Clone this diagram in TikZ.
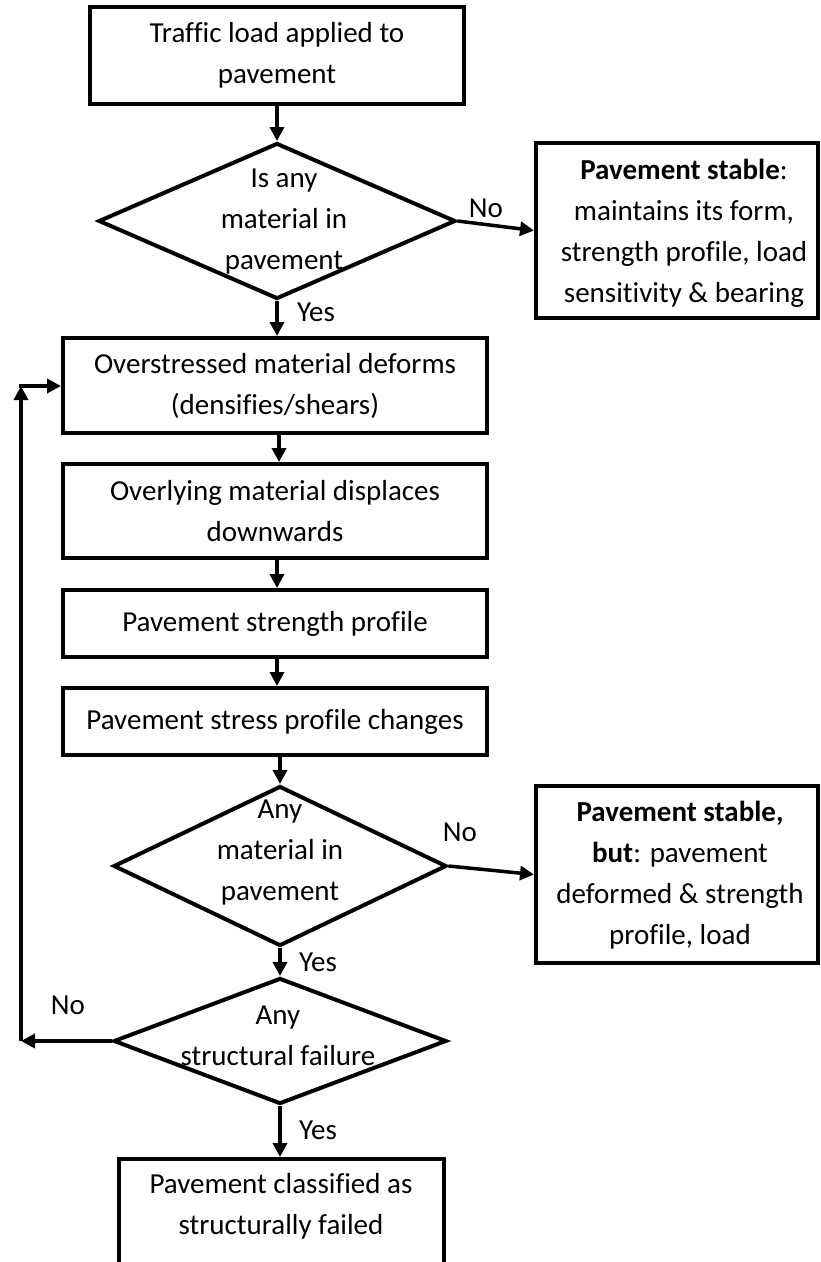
\documentclass[tikz,border=0pt]{standalone}
\usepackage{fontspec}
\setmainfont{Carlito}[Ligatures=NoCommon]
\usetikzlibrary{arrows.meta,shapes.geometric}
\begin{document}
\begin{tikzpicture}[x=1pt,y=-1pt,
 box/.style={draw, line width=4pt, inner sep=0pt, align=center, font=\fontsize{29}{41}\selectfont},
 dia/.style={draw, diamond, line width=4pt, inner sep=0pt},
 txt/.style={align=center, font=\fontsize{29}{41}\selectfont, inner sep=0pt},
 lbl/.style={font=\fontsize{29}{41}\selectfont, inner sep=0pt},
 arr/.style={line width=3.5pt, -{Triangle[length=14pt,width=14pt]}},
]
\useasboundingbox (0,0) rectangle (820,1262);
\clip (0,0) rectangle (820,1262);

% boxes
\node[box, minimum width=374pt, minimum height=97pt] (b1) at (277,55.5) {Traffic load applied to\\pavement};
\node[dia, minimum width=357pt, minimum height=156pt] (d1) at (277,221) {};
\node[txt] (d1t) at (284,222) {Is any\\material in\\pavement};
\node[box, minimum width=282pt, minimum height=175pt] (s1) at (677,230.5) {};
\node[txt] (s1t) at (684,233) {\textbf{Pavement stable}:\\maintains its form,\\strength profile, load\\sensitivity \& bearing};

\node[box, minimum width=424pt, minimum height=95pt] (b2) at (275,385.5) {Overstressed material deforms\\(densifies/shears)};
\node[box, minimum width=424pt, minimum height=94pt] (b3) at (275,511) {Overlying material displaces\\downwards};
\node[box, minimum width=424pt, minimum height=67pt] (b4) at (275,623.5) {Pavement strength profile};
\node[box, minimum width=424pt, minimum height=67pt] (b5) at (275,721.5) {Pavement stress profile changes};

\node[dia, minimum width=333pt, minimum height=160pt] (d2) at (280,866) {};
\node[txt] (d2t) at (280,853) {Any\\material in\\pavement};
\node[box, minimum width=282pt, minimum height=177pt] (s2) at (677,874.5) {};
\node[txt] (s2t) at (680,875) {\textbf{Pavement stable,}\\\textbf{but}: pavement\\deformed \& strength\\profile, load};

\node[dia, minimum width=333pt, minimum height=126pt] (d3) at (280,1041) {};
\node[txt] (d3t) at (278,1036) {Any\\structural failure};

\node[box, minimum width=325pt, minimum height=150pt, anchor=north] (fin) at (281.5,1157) {};
\node[txt] (fint) at (281,1206) {Pavement classified as\\structurally failed};

% connectors
\draw[arr] (b1.south) -- (d1.north);
\draw[arr] (d1.east) -- (s1.west);
\draw[arr] (d1.south) -- (d1.south |- b2.north);
\draw[arr] ([xshift=4pt]b2.south) -- ([xshift=4pt]b3.north);
\draw[arr] ([xshift=2pt]b3.south) -- ([xshift=2pt]b4.north);
\draw[arr] ([xshift=2pt]b4.south) -- ([xshift=2pt]b5.north);
\draw[arr] (b5.south -| d2.north) -- (d2.north);
\draw[arr] (d2.east) -- (s2.west);
\draw[arr] (d2.south) -- (d3.north);
\draw[arr] (d3.south) -- (fin.north -| d3.south);
\coordinate (c1) at (21,1041);
\coordinate (c2) at (21,386);
\draw[arr] (d3.west) -- (c1);
\draw[arr] (c1) -- (c2);
\draw[arr] ([xshift=-1.75pt]c2) -- (c2 -| b2.west);

% labels
\node[lbl] (l1) at (486,208) {No};
\node[lbl] (l2) at (316,312) {Yes};
\node[lbl] (l3) at (460,832) {No};
\node[lbl] (l4) at (318,962) {Yes};
\node[lbl] (l5) at (68,1005) {No};
\node[lbl] (l6) at (318,1130) {Yes};
\end{tikzpicture}
\end{document}
